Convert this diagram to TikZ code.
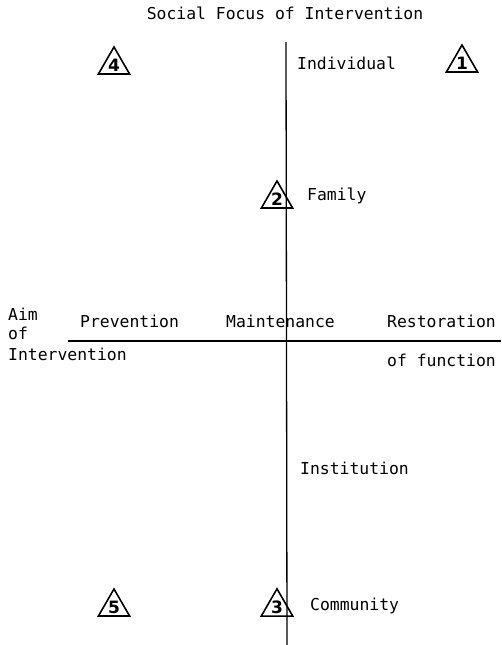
\documentclass[tikz,border=0pt]{standalone}
\usepackage{fontspec}
\newfontfamily\typefont{DejaVu Sans Mono}
\newfontfamily\numfont{DejaVu Sans}
\usepackage{tikz}
\usetikzlibrary{shapes.geometric}
\tikzset{
lbl/.style={font=\typefont\fontsize{16.4}{18}\selectfont, inner sep=0pt, anchor=mid west},
tri/.style={regular polygon, regular polygon sides=3, draw, line width=1.6pt, minimum size=36pt, inner sep=0pt, font=\numfont\bfseries\fontsize{17}{17}\selectfont},
axis/.style={line width=1.3pt}}

\begin{document}
\begin{tikzpicture}[x=1pt,y=-1pt]
    \useasboundingbox (0,0) rectangle (501,645);

                \node[lbl, anchor=mid] (title) at (285,17) {Social Focus of Intervention};
                \coordinate (top) at (286,42);
                \coordinate (bottom) at (287,645);
                \coordinate (left) at (68,341);
                \coordinate (right) at (501,341);

                \node[lbl] (indiv) at (297,67) {Individual};
                \node[lbl] (family) at (307,198) {Family};
                \node[lbl] (inst) at (300,472) {Institution};
                \node[lbl] (comm) at (310,608) {Community};

                \node[lbl] (aim) at (8,318) {Aim};
                \node[lbl] (of) at (8,337) {of};
                \node[lbl] (interv) at (8,358) {Intervention};
                \node[lbl] (prev) at (80,325) {Prevention};
                \node[lbl] (maint) at (226,325) {Maintenance};
                \node[lbl] (rest) at (387,325) {Restoration};
                \node[lbl] (func) at (387,364) {of function};

                \draw[axis] (top) -- (bottom);
                \draw[axis] (left) -- (right);

                \node[tri] (t4) at (114,65) {\raisebox{-4pt}{4}};
                \node[tri] (t1) at (462,63) {\raisebox{-4pt}{1}};
                \node[tri] (t2) at (277,199) {\raisebox{-4pt}{2}};
                \node[tri] (t3) at (277,607) {\raisebox{-4pt}{3}};
                \node[tri] (t5) at (114,607) {\raisebox{-4pt}{5}};

            \end{tikzpicture}
\end{document}
